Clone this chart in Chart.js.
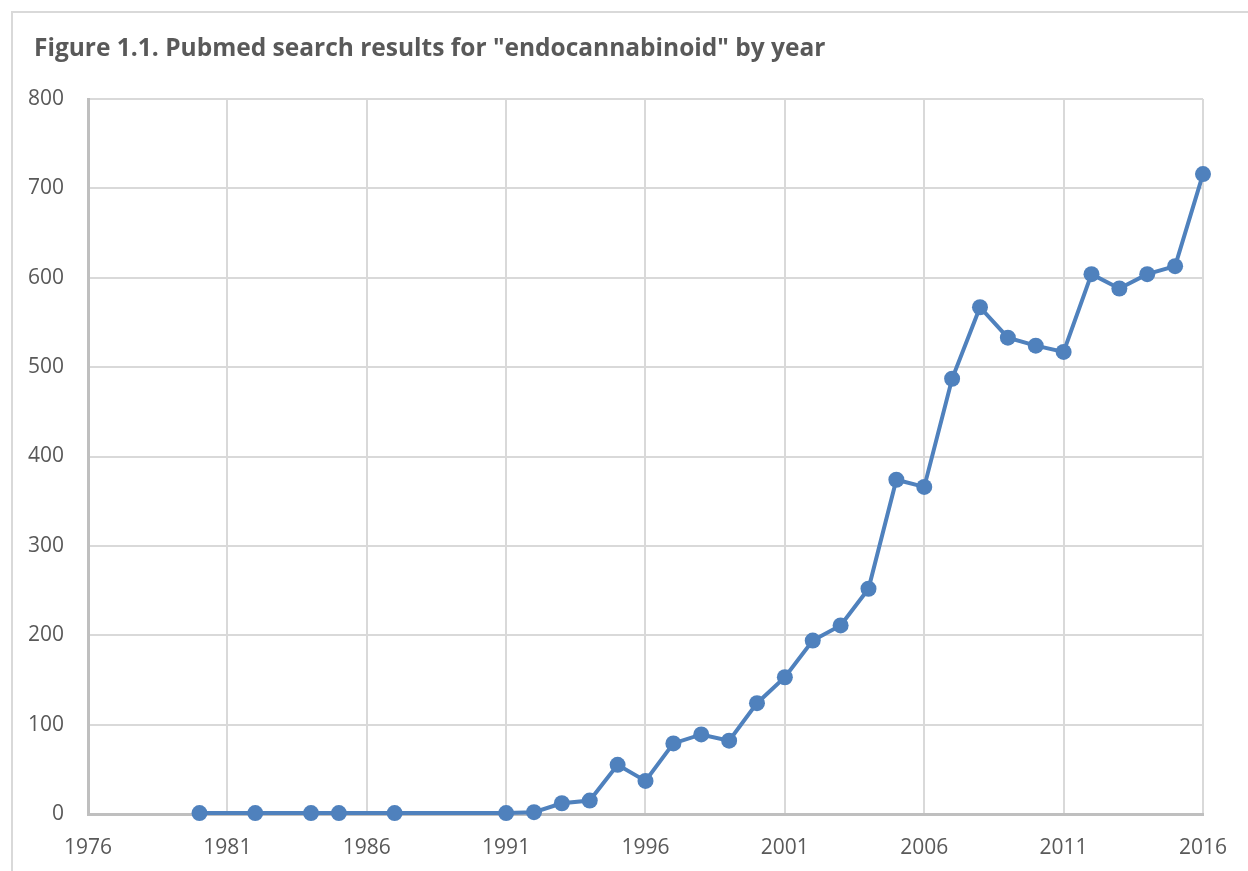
<!DOCTYPE html>
<html lang="en">

<head>
    <meta charset="UTF-8">
    <title>Pubmed endocannabinoid</title>
    <script src="https://cdn.jsdelivr.net/npm/chart.js"></script>
    <style>
        body { margin: 0; background: #fff; }
        .moldura {
            position: absolute; left: 11px; top: 11px; width: 1240px; height: 870px;
            border-top: 2px solid #d9d9d9; border-left: 2px solid #d9d9d9;
        }
        .titulo {
            position: absolute; left: 34px; top: 34px; margin: 0;
            font-family: 'Open Sans', sans-serif; font-weight: bold; font-size: 24.5px;
            line-height: 26px; color: #595959; white-space: nowrap;
        }
        .caixa { position: absolute; left: 0; top: 0; width: 1248px; height: 871px; }
    </style>
</head>

<body>
    <div class="moldura"></div>
    <div class="caixa"><canvas id="grafico"></canvas></div>
    <p class="titulo" id="titulo"></p>

<script>
    // dados
    const anos = [1980, 1982, 1984, 1985, 1987, 1991, 1992, 1993, 1994, 1995, 1996, 1997, 1998, 1999,
        2000, 2001, 2002, 2003, 2004, 2005, 2006, 2007, 2008, 2009, 2010, 2011, 2012, 2013, 2014, 2015, 2016];
    const resultados = [1, 1, 1, 1, 1, 1, 2, 12, 15, 55, 37, 79, 89, 82,
        124, 153, 194, 211, 252, 374, 366, 487, 567, 533, 524, 517, 604, 588, 604, 613, 716];
    const ticksX = [1976, 1981, 1986, 1991, 1996, 2001, 2006, 2011, 2016];
    const ticksY = [0, 100, 200, 300, 400, 500, 600, 700, 800];

    const textoTitulo = 'Figure 1.1. Pubmed search results for "endocannabinoid" by year';
    const azul = '#4f81bd';
    const cinzaTexto = '#595959';

    document.getElementById('titulo').textContent = textoTitulo;

    const pontos = anos.map((a, i) => ({ x: a, y: resultados[i] }));

    new Chart(document.getElementById('grafico'), {
        type: 'line',
        data: {
            datasets: [{
                label: 'endocannabinoid',
                data: pontos,
                borderColor: azul,
                backgroundColor: azul,
                borderWidth: 4,
                pointRadius: 8,
                pointHoverRadius: 8,
                pointBorderWidth: 0,
                tension: 0,
                clip: false
            }]
        },
        options: {
            responsive: true,
            maintainAspectRatio: false,
            animation: false,
            layout: { padding: { left: 10, right: 43, top: 99, bottom: 0 } },
            plugins: {
                legend: { display: false },
                tooltip: { enabled: false }
            },
            scales: {
                x: {
                    type: 'linear',
                    min: 1976,
                    max: 2016,
                    afterBuildTicks: escala => { escala.ticks = ticksX.map(v => ({ value: v })); },
                    afterFit: escala => { escala.height = 57; },
                    ticks: {
                        color: cinzaTexto,
                        font: { family: 'Open Sans', size: 21 },
                        padding: 21,
                        maxRotation: 0,
                        callback: v => String(v)
                    },
                    grid: { color: '#d9d9d9', lineWidth: 2, drawTicks: false },
                    border: { color: '#bfbfbf', width: 3 }
                },
                y: {
                    min: 0,
                    max: 800,
                    afterBuildTicks: escala => { escala.ticks = ticksY.map(v => ({ value: v })); },
                    afterFit: escala => { escala.width = 78; },
                    ticks: {
                        color: cinzaTexto,
                        font: { family: 'Open Sans', size: 21 },
                        padding: 24
                    },
                    grid: { color: '#d9d9d9', lineWidth: 2, drawTicks: false },
                    border: { color: '#bfbfbf', width: 3 }
                }
            }
        }
    });
</script>
</body>

</html>
